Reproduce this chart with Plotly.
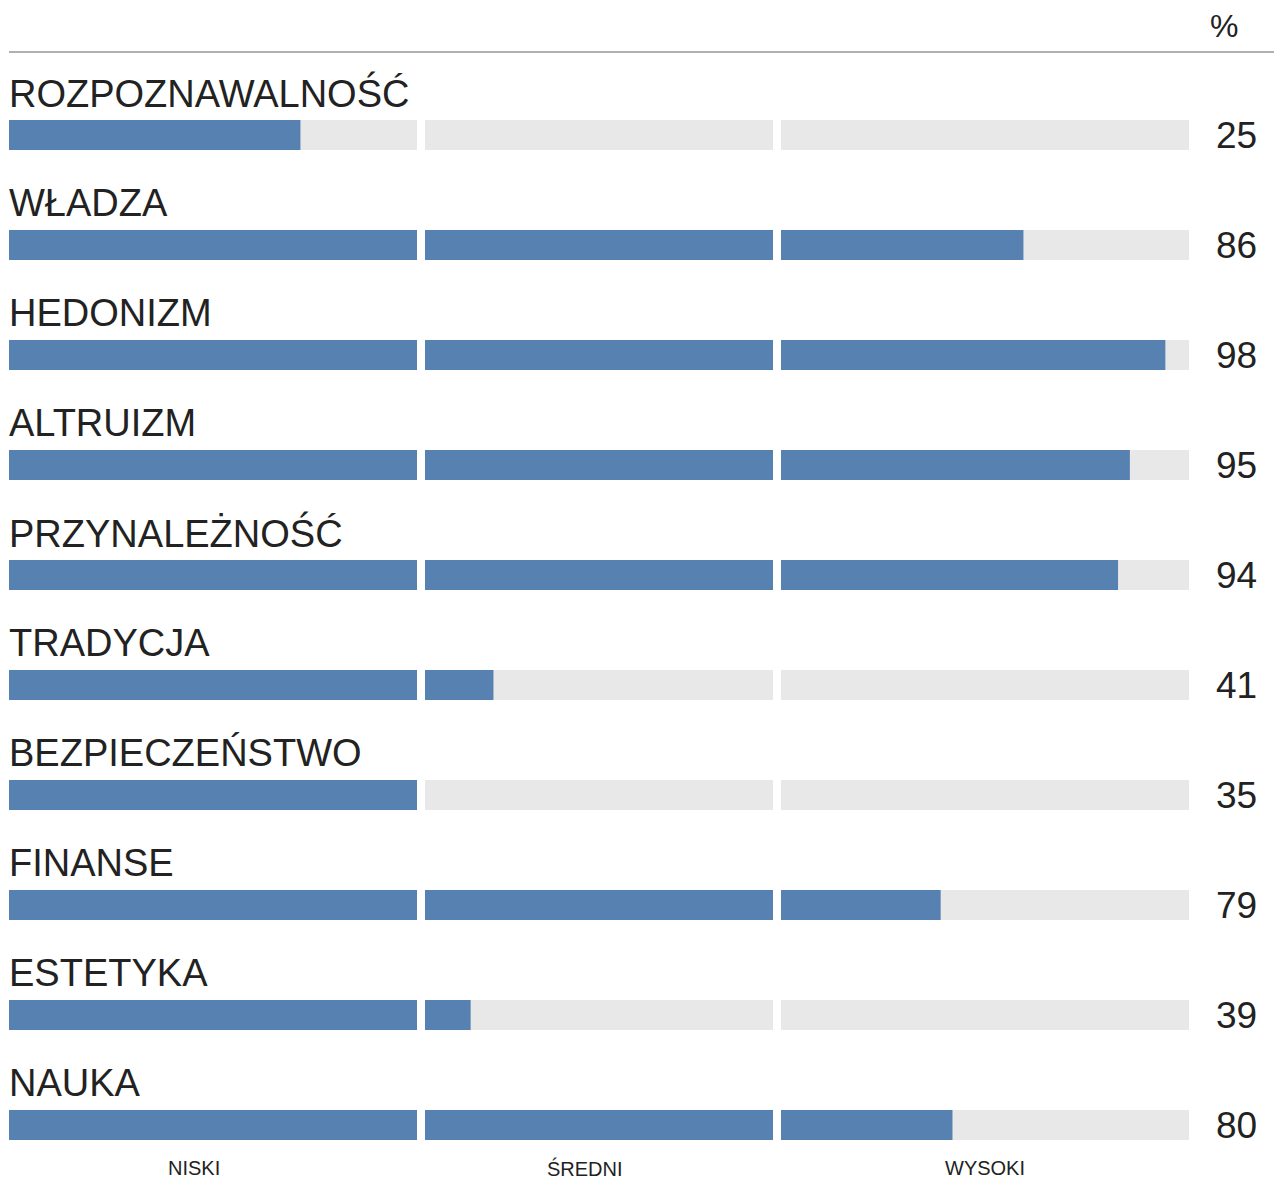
import plotly.graph_objects as go

categories = ["ROZPOZNAWALNOŚĆ", "WŁADZA", "HEDONIZM", "ALTRUIZM", "PRZYNALEŻNOŚĆ",
              "TRADYCJA", "BEZPIECZEŃSTWO", "FINANSE", "ESTETYKA", "NAUKA"]
values = [25, 86, 98, 95, 94, 41, 35, 79, 39, 80]
level_labels = ["NISKI", "ŚREDNI", "WYSOKI"]
level_bounds = [(0, 35), (35, 65.5), (65.5, 100)]

W, H = 1274, 1180
BLUE = "#5781b0"
GREY = "#e8e8e8"
TXT = "#222222"
FONT = "Liberation Sans, Arial, sans-serif"
NARROW = "Liberation Sans Narrow, Liberation Sans, sans-serif"

domains = [(9 / W, 417 / W), (425 / W, 773 / W), (781 / W, 1189 / W)]
rows = list(range(len(categories)))

fig = go.Figure()
for k, (lo, hi) in enumerate(level_bounds):
    xa = "x" if k == 0 else f"x{k+1}"
    fill = [min(max(v, lo), hi) - lo for v in values]
    fig.add_trace(go.Bar(
        x=[hi - lo] * len(rows), y=rows, base=[lo] * len(rows), orientation="h",
        marker=dict(color=GREY, line=dict(width=0)), width=30 / 110,
        xaxis=xa, yaxis="y", hoverinfo="skip", showlegend=False))
    fig.add_trace(go.Bar(
        x=fill, y=rows, base=[lo] * len(rows), orientation="h",
        marker=dict(color=BLUE, line=dict(width=0)), width=30 / 110,
        xaxis=xa, yaxis="y", showlegend=False, hoverinfo="skip"))

layout = dict(
    width=W, height=H, margin=dict(l=0, r=0, t=0, b=0),
    paper_bgcolor="white", plot_bgcolor="white", barmode="overlay",
    yaxis=dict(range=[(H - 135) / 110, -135 / 110], visible=False, fixedrange=True),
)
for k, (lo, hi) in enumerate(level_bounds):
    key = "xaxis" if k == 0 else f"xaxis{k+1}"
    layout[key] = dict(domain=list(domains[k]), range=[lo, hi], visible=False,
                       anchor="y", fixedrange=True)
fig.update_layout(**layout)

ann = []
for i, (c, v) in enumerate(zip(categories, values)):
    ann.append(dict(x=7 / W, xref="paper", y=i, yref="y", text=c, showarrow=False,
                    xanchor="left", yanchor="middle", yshift=42,
                    font=dict(family=FONT, size=38, color=TXT)))
    ann.append(dict(x=1236 / W, xref="paper", y=i, yref="y", text=str(v), showarrow=False,
                    xanchor="center", yanchor="middle",
                    font=dict(family=FONT, size=37, color=TXT)))

label_x = [194, 585, 985]
for lab, lx in zip(level_labels, label_x):
    ann.append(dict(x=lx / W, xref="paper", y=1 - 1168 / H, yref="paper", text=lab,
                    showarrow=False, xanchor="center", yanchor="middle",
                    font=dict(family=NARROW, size=20, color=TXT)))
ann.append(dict(x=1224 / W, xref="paper", y=1 - 26 / H, yref="paper", text="%",
                showarrow=False, xanchor="center", yanchor="middle",
                font=dict(family=NARROW, size=32, color=TXT)))
fig.update_layout(annotations=ann)
fig.add_shape(type="line", xref="paper", yref="paper", x0=9 / W, x1=1, y0=1 - 52 / H,
              y1=1 - 52 / H, line=dict(color="#b0b0b0", width=2))

fig.write_html("out.html", config={"displayModeBar": False},
               post_script="document.body.style.margin='0';document.body.style.overflow='hidden';")
